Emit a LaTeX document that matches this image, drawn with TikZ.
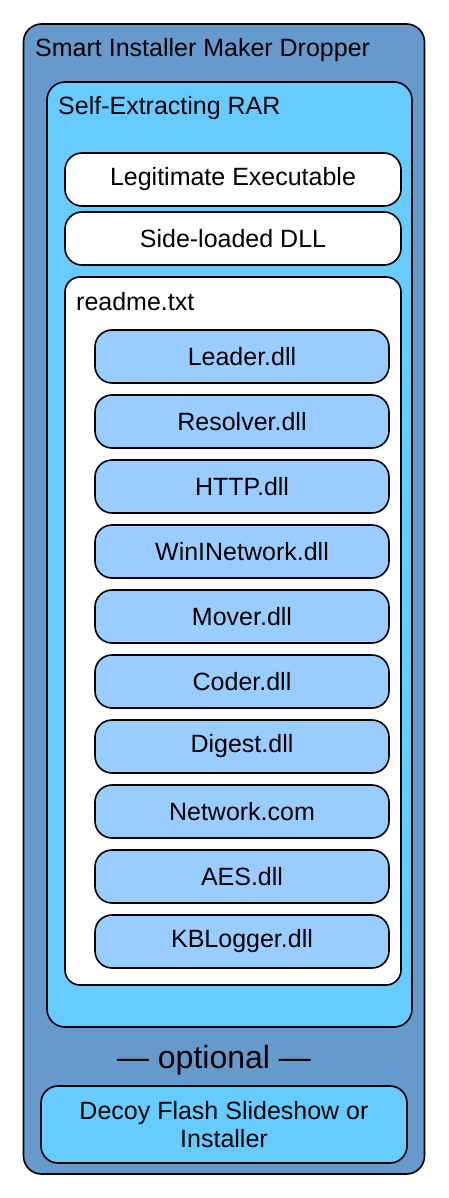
\documentclass[tikz,border=0pt]{standalone}
\usepackage{fontspec}
\setmainfont{Liberation Sans}
\usetikzlibrary{positioning}

\definecolor{dropperblue}{HTML}{6699CC}
\definecolor{rarblue}{HTML}{66CCFF}
\definecolor{dllblue}{HTML}{99CCFF}

\tikzset{
  container/.style={draw=black, line width=1.6pt, rounded corners=18pt, inner sep=0pt},
  filebox/.style={draw=black, line width=1.6pt, rounded corners=17pt, inner sep=0pt,
    minimum width=336pt, minimum height=53pt, fill=white, font=\fontsize{25}{28}\selectfont},
  dllbox/.style={filebox, fill=dllblue, minimum width=294pt},
  caption/.style={anchor=base west, inner sep=0pt, font=\fontsize{25}{28}\selectfont},
}

\begin{document}
\begin{tikzpicture}[x=1pt,y=-1pt]
	\useasboundingbox (0,0) rectangle (448,1198);
	% containers
	\node[container, fill=dropperblue, minimum width=401pt, minimum height=1150pt] (dropper) at (224,599) {};
	\node[container, fill=rarblue, minimum width=365pt, minimum height=945pt] (rar) at (229.5,554.5) {};
	\node[container, fill=white, rounded corners=15pt, minimum width=336pt, minimum height=708pt] (readme) at (233,631) {};
	\node[caption] (droppertitle) at (35,57) {Smart Installer Maker Dropper};
	\node[caption] (rartitle) at (58,115) {Self-Extracting RAR};
	\node[caption] (readmetitle) at (76,310) {readme.txt};
	% files in the archive
	\node[filebox] (legit) at (233,179.5) {Legitimate Executable};
	\node[filebox] (sideload) at (233,238.5) {Side-loaded DLL};
	% payload modules
	\foreach \dllname [count=\i from 0] in {Leader.dll,Resolver.dll,HTTP.dll,WinINetwork.dll,Mover.dll,Coder.dll,Digest.dll,Network.com,AES.dll,KBLogger.dll}
		\node[dllbox] (dll\i) at (242,356.5+65*\i) {\dllname};
	% optional decoy
	\node[anchor=base, inner sep=0pt, font=\fontsize{32}{36}\selectfont] (optional) at (214,1068) {— optional —};
	\node[filebox, fill=rarblue, minimum width=366pt, minimum height=77pt, align=center] (decoy) at (224,1124.5) {Decoy Flash Slideshow or\\Installer};
\end{tikzpicture}
\end{document}
